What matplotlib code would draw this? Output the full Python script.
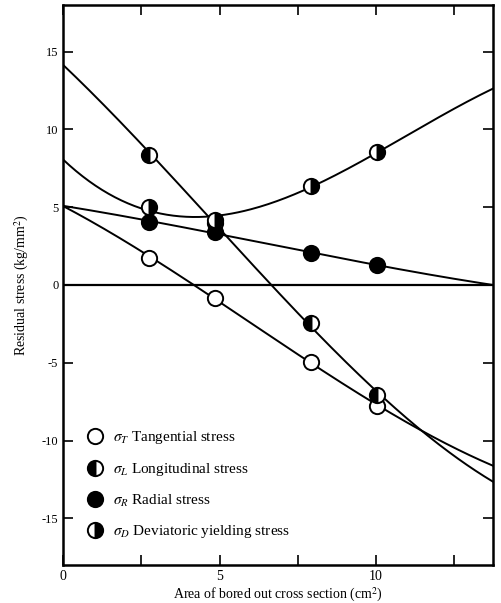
import numpy as np
import matplotlib.pyplot as plt

plt.rcParams['font.family'] = ['Liberation Serif', 'DejaVu Serif']
plt.rcParams['mathtext.fontset'] = 'stix'

# bored out area (cm^2) where stresses were measured
area = [2.75, 4.86, 7.92, 10.03]

# residual stresses (kg/mm^2) at each area
sigma_T = [1.73, -0.83, -4.94, -7.8]
sigma_L = [8.33, 4.0, -2.44, -7.1]
sigma_R = [4.04, 3.4, 2.05, 1.28]
sigma_D = [5.0, 4.17, 6.35, 8.53]

# where the drawn curves meet the frame
x_ends = [0, 13.74]
T_ends = [5.1, -11.6]
L_ends = [14.2, -12.6]
R_ends = [5.1, 0.0]
D_ends = [8.0, 12.6]

labels = [r'$\sigma_T$ Tangential stress',
          r'$\sigma_L$ Longitudinal stress',
          r'$\sigma_R$ Radial stress',
          r'$\sigma_D$ Deviatoric yielding stress']

fig = plt.figure(figsize=(5.01, 6.03), dpi=100)
ax = fig.add_axes([0.126, 0.063, 0.858, 0.929])


def curve(ys, ends, deg=3):
    # smooth curve through the measured points and the end values
    xs = [x_ends[0]] + area + [x_ends[1]]
    yy = [ends[0]] + ys + [ends[1]]
    c = np.polyfit(xs, yy, deg)
    xx = np.linspace(x_ends[0], x_ends[1], 200)
    return xx, np.polyval(c, xx)


for ys, ends in [(sigma_T, T_ends), (sigma_L, L_ends),
                 (sigma_R, R_ends), (sigma_D, D_ends)]:
    xx, yy = curve(ys, ends)
    ax.plot(xx, yy, color='black', lw=1.4, zorder=2)

ax.axhline(0, color='black', lw=1.6, zorder=1)

ms = 11
h1, = ax.plot(area, sigma_T, 'o', ms=ms, mfc='white', mec='black', mew=1.4,
              ls='none', zorder=3, label=labels[0])
h2, = ax.plot(area, sigma_L, 'o', ms=ms, fillstyle='left', mfc='black',
              mfcalt='white', mec='black', mew=1.4, ls='none', zorder=3,
              label=labels[1])
h3, = ax.plot(area, sigma_R, 'o', ms=ms, mfc='black', mec='black', mew=1.4,
              ls='none', zorder=3, label=labels[2])
h4, = ax.plot(area, sigma_D, 'o', ms=ms, fillstyle='right', mfc='black',
              mfcalt='white', mec='black', mew=1.4, ls='none', zorder=4,
              label=labels[3])

ax.legend(handles=[h1, h2, h3, h4], loc='lower left',
          bbox_to_anchor=(0.02, 0.02), frameon=False, fontsize=11,
          labelspacing=0.95, handletextpad=0.6, handlelength=1.2)

ax.set_xlim(x_ends[0], x_ends[1])
ax.set_ylim(-18, 18)
ax.set_xticks([0, 2.5, 5, 7.5, 10, 12.5])
ax.set_xticklabels(['0', '', '5', '', '10', ''], fontsize=10)
ax.set_yticks([-15, -10, -5, 0, 5, 10, 15])
ax.set_yticklabels(['-15', '-10', '-5', '0', '5', '10', '15'], fontsize=9)
ax.tick_params(direction='in', length=7, width=1.2, top=True, right=True)
for s in ax.spines.values():
    s.set_linewidth(1.8)

ax.set_xlabel('Area of bored out cross section (cm$^2$)', fontsize=10,
              labelpad=2)
ax.set_ylabel('Residual stress (kg/mm$^2$)', fontsize=10, labelpad=8)

fig.savefig('out.png', dpi=100)
